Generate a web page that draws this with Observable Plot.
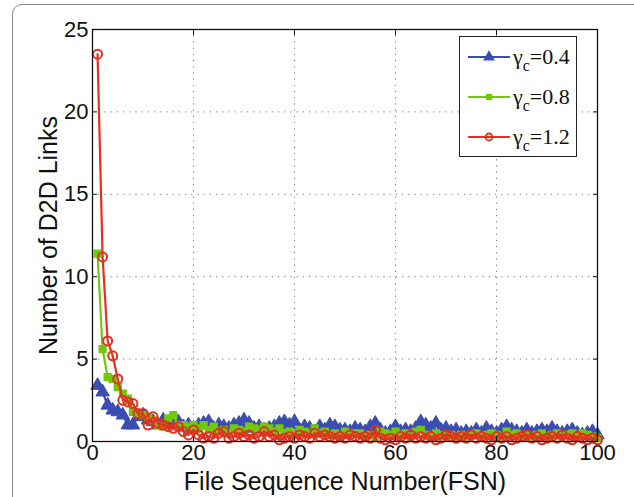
<!DOCTYPE html>
<html><head><meta charset="utf-8">
<script src="https://cdn.jsdelivr.net/npm/d3@7"></script>
<script src="https://cdn.jsdelivr.net/npm/@observablehq/plot@0.6"></script>
<style>
body{margin:0;overflow:hidden;background:#fff;font-family:"Liberation Sans",Arial,sans-serif;}
#wrap{position:relative;width:634px;height:497px;}
#frame{position:absolute;left:12px;top:4px;width:660px;height:520px;border:1px solid #8a8a8a;border-radius:10px;}
#legend{position:absolute;left:459px;top:36px;width:118px;height:121px;border:1.5px solid #222;background:#fff;box-sizing:border-box;}
#chart svg, #chart svg text{font-family:"Liberation Sans",Arial,sans-serif !important;}
</style></head>
<body><div id="wrap"><div id="frame"></div><div id="chart"></div><div id="legend"></div></div>
<script>
const fsn = d3.range(1, 101);
const g04 = [3.4,3.0,2.2,1.9,1.8,1.6,1.0,1.0,1.5,1.6,1.3,1.2,1.0,1.3,1.1,1.0,1.2,0.9,1.0,0.8,
1.0,1.1,1.2,0.8,1.0,0.9,0.8,1.0,1.1,1.3,1.1,0.8,0.9,0.7,0.8,0.9,1.1,1.2,1.0,1.2,
0.7,0.9,0.8,0.6,0.9,0.7,1.0,0.9,0.7,0.7,0.6,0.8,0.7,0.6,0.9,1.1,0.7,0.5,0.6,0.9,
0.6,0.7,0.6,0.8,1.2,1.0,0.8,1.1,0.7,0.8,0.6,0.7,0.5,0.6,0.5,0.7,0.5,0.8,0.6,0.5,
0.7,0.9,0.7,0.6,0.5,0.7,0.5,0.6,0.7,0.6,0.8,0.6,0.5,0.6,0.7,0.5,0.4,0.5,0.6,0.4];
const g08 = [11.4,5.6,3.9,3.8,3.3,2.9,2.6,1.8,1.7,1.6,1.5,1.3,1.0,0.9,1.4,1.6,1.0,1.0,0.9,1.0,
0.8,1.0,0.7,0.9,0.6,0.7,0.5,0.8,0.7,0.6,0.9,0.8,0.7,0.9,0.8,0.6,0.8,0.5,0.6,0.4,
0.7,0.6,0.5,0.8,0.5,0.6,0.4,0.5,0.3,0.6,0.4,0.5,0.5,0.3,0.4,0.2,0.6,0.5,0.4,0.6,
0.4,0.5,0.3,0.6,0.7,0.4,0.3,0.5,0.4,0.3,0.4,0.3,0.4,0.3,0.4,0.5,0.3,0.4,0.5,0.4,
0.3,0.6,0.4,0.5,0.3,0.4,0.3,0.4,0.5,0.3,0.4,0.5,0.3,0.4,0.5,0.3,0.5,0.4,0.3,0.2];
const g12 = [23.5,11.2,6.1,5.2,3.8,2.5,2.4,2.3,1.7,1.7,1.0,1.5,1.1,1.0,0.9,0.8,0.9,0.6,0.4,0.7,
0.4,0.2,0.3,0.2,0.5,0.6,0.2,0.3,0.5,0.3,0.4,0.2,0.3,0.6,0.3,0.4,0.1,0.2,0.3,0.2,
0.4,0.3,0.2,0.5,0.3,0.4,0.3,0.2,0.3,0.2,0.4,0.3,0.2,0.3,0.2,0.7,0.2,0.1,0.2,0.1,
0.3,0.2,0.4,0.2,0.3,0.2,0.3,0.1,0.2,0.4,0.3,0.2,0.3,0.2,0.4,0.2,0.3,0.2,0.1,0.3,
0.2,0.3,0.1,0.2,0.3,0.4,0.2,0.3,0.1,0.2,0.3,0.2,0.4,0.2,0.1,0.3,0.2,0.1,0.2,0.1];
const xTicks = [0,20,40,60,80,100];
const yTicks = [0,5,10,15,20,25];
const seriesNames = ["0.4","0.8","1.2"];
const colors = ["#3b4db3","#72c80a","#e4301f"];
const FONT = "'Liberation Sans', Arial, sans-serif";

const mk = (vals) => fsn.map((x,i)=>({x, y: vals[i]}));
const d04 = mk(g04), d08 = mk(g08), d12 = mk(g12);

const chart = Plot.plot({
  width: 634, height: 497,
  marginLeft: 92, marginRight: 37, marginTop: 29, marginBottom: 56,
  style: {fontFamily: FONT, fontSize: "22px", background: "transparent"},
  x: {domain: [0,100]},
  y: {domain: [0,25]},
  marks: [
    Plot.gridX([20,40,60,80], {stroke: "#777", strokeOpacity: 1, strokeDasharray: "1.2,5"}),
    Plot.gridY([5,10,15,20], {stroke: "#777", strokeOpacity: 1, strokeDasharray: "1.2,5"}),
    Plot.line(d04, {x:"x", y:"y", stroke: colors[0], strokeWidth: 2.2}),
    Plot.dot(d04, {x:"x", y:"y", symbol:"triangle", r: 5, fill: colors[0], stroke: colors[0], strokeWidth: 1}),
    Plot.line(d08, {x:"x", y:"y", stroke: colors[1], strokeWidth: 2.2}),
    Plot.dot(d08, {x:"x", y:"y", symbol:"square", r: 3.8, fill: colors[1], stroke: colors[1]}),
    Plot.line(d12, {x:"x", y:"y", stroke: colors[2], strokeWidth: 2.2}),
    Plot.dot(d12, {x:"x", y:"y", r: 4.5, fill: "none", stroke: colors[2], strokeWidth: 2}),
    Plot.frame({stroke: "#111", strokeWidth: 1.3}),
    Plot.axisX(xTicks, {anchor: "bottom", tickSize: -5, tickPadding: 8, label: null, fontSize: 22, fontFamily: FONT, fill: "#111", stroke: "#111"}),
    Plot.axisX(xTicks, {anchor: "top", tickSize: -5, tickFormat: () => "", label: null, stroke: "#111"}),
    Plot.axisY(yTicks, {anchor: "left", tickSize: -5, tickPadding: 9, label: null, fontSize: 22, fontFamily: FONT, fill: "#111", stroke: "#111"}),
    Plot.axisY(yTicks, {anchor: "right", tickSize: -5, tickFormat: () => "", label: null, stroke: "#111"}),
    Plot.text(["File Sequence Number(FSN)"], {frameAnchor: "bottom", dy: 48, lineAnchor: "bottom", textAnchor: "middle", fontSize: 25, fontFamily: FONT, fill: "#111"}),
    Plot.text(["Number of D2D Links"], {frameAnchor: "left", dx: -44, rotate: -90, textAnchor: "middle", lineAnchor: "middle", fontSize: 25, fontFamily: FONT, fill: "#111"})
  ]
});
document.getElementById("chart").appendChild(chart);

// legend
const lg = d3.select("#legend").append("svg").attr("width",118).attr("height",121);
const symbols = [d3.symbolTriangle, d3.symbolSquare, null];
seriesNames.forEach((n,i)=>{
  const y = 20 + i*40;
  lg.append("line").attr("x1",8).attr("x2",50).attr("y1",y).attr("y2",y).attr("stroke",colors[i]).attr("stroke-width",2.2);
  if (symbols[i]) {
    lg.append("path").attr("d", d3.symbol(symbols[i], i===0?60:40)()).attr("transform",`translate(29,${y})`).attr("fill",colors[i]);
  } else {
    lg.append("circle").attr("cx",29).attr("cy",y).attr("r",3.5).attr("fill","none").attr("stroke",colors[i]).attr("stroke-width",1.8);
  }
  const t = lg.append("text").attr("x",53).attr("y",y+7).attr("font-family","'Liberation Serif','Times New Roman',serif").attr("font-size",22).attr("fill","#111");
  t.append("tspan").text("γ");
  t.append("tspan").attr("font-size",16).attr("dy",7).text("c");
  t.append("tspan").attr("dy",-7).text("=" + n);
});
</script></body></html>
